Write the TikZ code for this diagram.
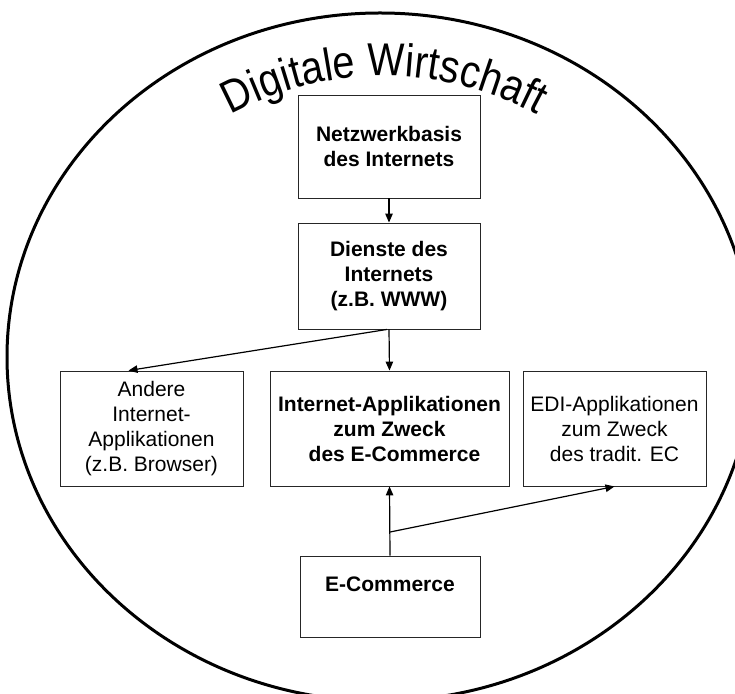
\documentclass[tikz,border=0pt]{standalone}
\usepackage{fontspec}
\setmainfont{Liberation Sans}
\newfontfamily\titlefont[FakeStretch=0.86]{Liberation Sans}
\usetikzlibrary{arrows.meta,calc,decorations.text}
\begin{document}
\begin{tikzpicture}[x=1pt,y=1pt,
  box/.style={draw=black!85, line width=0.9pt, inner sep=0pt, align=center,
    font=\fontsize{21}{25}\selectfont},
  boldbox/.style={box, font=\fontsize{21}{25}\selectfont\bfseries},
  link/.style={line width=1.2pt, -{Triangle[length=9pt,width=7.5pt]}}]
\useasboundingbox (0,0) rectangle (735,693);

% outer ellipse, cut off by the page edges
\begin{scope}
  \clip (0,0) rectangle (735,693);
  \draw[line width=3pt] (380,336) ellipse [x radius=373, y radius=344];
\end{scope}

% curved title
\path[decorate, decoration={text along path, text align=center,
    text={|\titlefont\fontsize{46}{55}\selectfont|Digitale Wirtschaft}}]
  (384,297) ++(125:320) arc[start angle=125, end angle=55, radius=320];

% boxes
\node[boldbox, minimum width=182pt, minimum height=103pt] (netz) at (389,546.5)
  {Netzwerkbasis\\des Internets};
\node[boldbox, minimum width=182pt, minimum height=106pt] (dienste) at (389,417)
  {Dienste des\\Internets\\(z.B. WWW)};
\node[boldbox, minimum width=239pt, minimum height=115pt] (mid) at (389.5,264.5)
  {Internet-Applikationen\\zum Zweck\\\hspace*{10pt}des E-Commerce};
\node[box, minimum width=183pt, minimum height=115pt] (andere) at (151.5,264.5)
  {Andere\\Internet-\\Applikationen\\(z.B. Browser)};
\node[box, minimum width=183pt, minimum height=115pt] (edi) at (614.5,264.5)
  {EDI-Applikationen\\zum Zweck\\des tradit. EC};
\node[boldbox, minimum width=180pt, minimum height=81pt] (ecom) at (390,96.5)
  {E-Commerce\\\mbox{}};

% connectors
\draw[link] (netz.south) -- (dienste.north);
\draw[link] (dienste.south) -- (mid.north);
\draw[link] ($(dienste.south)+(-2,0)$) -- ($(andere.north)!0.25!(andere.north west)$);
\draw[link] (ecom.north) -- (mid.south);
\coordinate (fork) at ($(ecom.north)!0.34!(mid.south)$);
\draw[link] (fork) -- (edi.south);
\end{tikzpicture}
\end{document}
